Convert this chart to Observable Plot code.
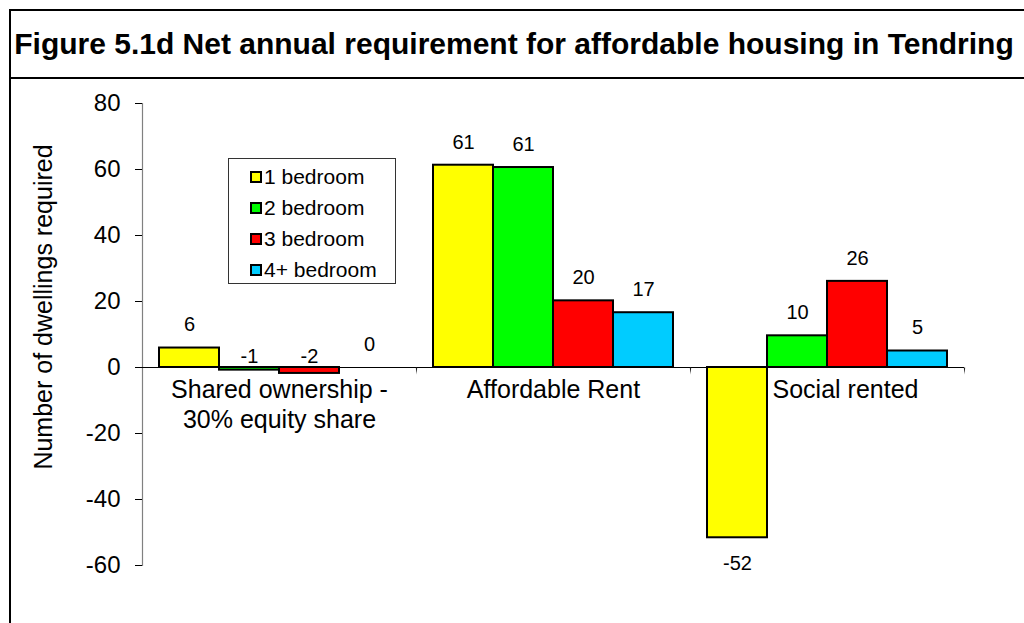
<!DOCTYPE html>
<html>
<head>
<meta charset="utf-8">
<script src="https://cdn.jsdelivr.net/npm/d3@7"></script>
<script src="https://cdn.jsdelivr.net/npm/@observablehq/plot@0.6"></script>
<style>
  html, body { margin: 0; padding: 0; background: #fff; overflow: hidden; }
  body { width: 1024px; height: 623px; position: relative; font-family: "Liberation Sans", Arial, sans-serif; color: #000; }
  #box { position: absolute; left: 9px; top: 9px; width: 1100px; height: 700px; border: 2px solid #000; box-sizing: border-box; }
  #titlebar { position: absolute; left: 9px; top: 9px; width: 1100px; height: 70px; border: 2px solid #000; box-sizing: border-box; }
  #title { position: absolute; left: 0; top: 27px; width: 1028px; text-align: center; font-weight: bold; font-size: 30px; line-height: 34px; white-space: nowrap; }
  #ylabel { position: absolute; left: 43px; top: 307px; transform: translate(-50%, -50%) rotate(-90deg); font-size: 25px; white-space: nowrap; }
  #chart { position: absolute; left: 0; top: 0; }
  #legend { position: absolute; left: 228px; top: 158px; width: 168px; height: 126px; border: 1px solid #333; box-sizing: border-box; background: #fff; }
  .item { position: absolute; left: 21px; height: 24px; display: flex; align-items: center; font-size: 21px; white-space: nowrap; }
  .sw { width: 8px; height: 8px; border: 2px solid #000; margin-right: 2px; }
</style>
</head>
<body>
<div id="box"></div>
<div id="titlebar"></div>
<div id="title">Figure 5.1d Net annual requirement for affordable housing in Tendring</div>
<div id="chart"></div>
<div id="ylabel">Number of dwellings required</div>
<div id="legend"></div>
<script>
const groups = ["Shared ownership -\n30% equity share", "Affordable Rent", "Social rented"];
const bedrooms = ["1 bedroom", "2 bedroom", "3 bedroom", "4+ bedroom"];
const colors = ["#FFFF00", "#00FF00", "#FF0000", "#00CCFF"];
const sharedOwnership = [5.9, -0.8, -1.8, 0];
const affordableRent = [61.3, 60.6, 20.2, 16.6];
const socialRented = [-51.6, 9.6, 26.1, 5.0];
const yTicks = [-60, -40, -20, 0, 20, 40, 60, 80];

const series = [sharedOwnership, affordableRent, socialRented];
const data = groups.flatMap((g, gi) => bedrooms.map((b, bi) => ({group: g, bedroom: b, value: series[gi][bi]})));

const pos = data.filter(d => d.value >= 0);
const smallNeg = data.filter(d => d.value < 0 && d.value > -10);
const bigNeg = data.filter(d => d.value <= -10);
const fmt = d => String(Math.round(d.value));

const chart = Plot.plot({
  width: 1024,
  height: 623,
  marginLeft: 142,
  marginRight: 60,
  marginTop: 103,
  marginBottom: 58,
  style: {fontFamily: "'Liberation Sans', Arial, sans-serif", background: "transparent", color: "#000", overflow: "visible"},
  fx: {domain: groups, padding: 0, axis: null},
  x: {domain: bedrooms, paddingInner: 0, paddingOuter: 0.246, axis: null},
  y: {domain: [-60, 80], axis: null},
  color: {domain: bedrooms, range: colors},
  marks: [
    Plot.frame({anchor: "left", facetAnchor: "left", stroke: "#808080", strokeWidth: 1.2}),
    Plot.axisY({ticks: yTicks, tickSize: 7, tickPadding: 15, fontSize: 24, label: null, tickFormat: d => String(d)}),
    Plot.barY(data, {fx: "group", x: "bedroom", y: "value", fill: "bedroom", stroke: "#000", strokeWidth: 2}),
    Plot.ruleY([0], {stroke: "#000", strokeWidth: 1}),
    Plot.vector(groups, {fx: d => d, y: 0, frameAnchor: "right", length: 7, rotate: 180, anchor: "start", shape: "spike", r: 0.7, fill: "#222", stroke: "none"}),
    Plot.text(groups.slice(0, 2), {fx: d => d, y: 0, text: d => d, lineAnchor: "top", dy: 9, fontSize: 25, lineHeight: 1.2}),
    Plot.text(groups.slice(2), {fx: d => d, y: 0, text: d => d, lineAnchor: "top", dy: 9, dx: 18, fontSize: 25, lineHeight: 1.2}),
    Plot.text(pos, {fx: "group", x: "bedroom", y: "value", text: fmt, dy: -23, fontSize: 20}),
    Plot.text(smallNeg, {fx: "group", x: "bedroom", y: 0, text: fmt, dy: -11, fontSize: 20}),
    Plot.text(bigNeg, {fx: "group", x: "bedroom", y: "value", text: fmt, dy: 26, fontSize: 20})
  ]
});
document.getElementById("chart").appendChild(chart);

const legend = document.getElementById("legend");
bedrooms.forEach((b, i) => {
  const item = document.createElement("div");
  item.className = "item";
  item.style.top = (6 + i * 31) + "px";
  const sw = document.createElement("div");
  sw.className = "sw";
  sw.style.background = colors[i];
  item.appendChild(sw);
  const t = document.createElement("span");
  t.textContent = b;
  item.appendChild(t);
  legend.appendChild(item);
});
</script>
</body>
</html>
